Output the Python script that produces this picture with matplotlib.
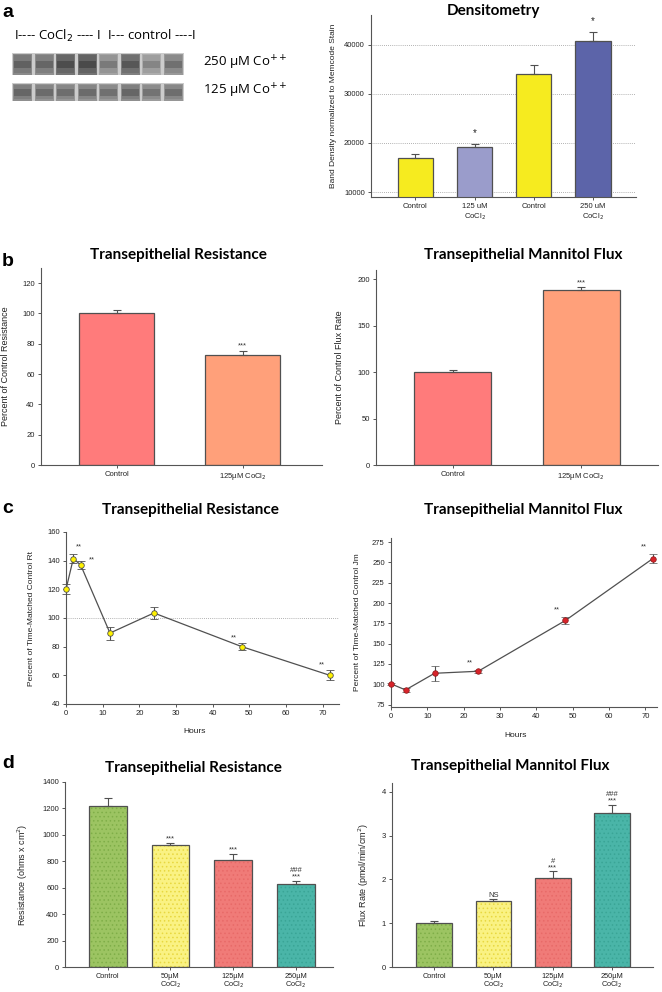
import numpy as np
import matplotlib
matplotlib.use('Agg')
import matplotlib.pyplot as plt
from matplotlib.patches import Rectangle

plt.rcParams['font.family'] = ['Liberation Sans', 'DejaVu Sans']
plt.rcParams['font.size'] = 6
plt.rcParams['hatch.linewidth'] = 0.6

# --- data ---
# a: densitometry
dens_labels = ['Control', '125 uM\nCoCl$_2$', 'Control', '250 uM\nCoCl$_2$']
dens_values = [17000, 19200, 34100, 40800]
dens_err = [800, 500, 1800, 1700]
dens_colors = ['#F6EB1F', '#9A9CCB', '#F6EB1F', '#5C64A9']
dens_stars = ['', '*', '', '*']

# a: blot lane darkness (0 = white, 1 = black)
blot_250 = [0.56, 0.54, 0.64, 0.65, 0.46, 0.60, 0.42, 0.50]
blot_125 = [0.54, 0.52, 0.51, 0.52, 0.50, 0.54, 0.49, 0.51]

# b: percent of control
b_labels = ['Control', '125µM CoCl$_2$']
b_res = [100, 72.5]
b_res_err = [2.5, 2.5]
b_flux = [100, 189]
b_flux_err = [2, 3]
b_colors = ['#FF7B7B', '#FFA07A']

# c: time course
c_res_hours = [0, 2, 4, 12, 24, 48, 72]
c_res = [120, 141.5, 137, 89.5, 103.5, 80, 60]
c_res_err = [3.5, 3, 2.5, 4.5, 4.5, 2.5, 3.5]
c_res_stars = ['', '**', '**', '', '', '**', '**']
c_flux_hours = [0, 4, 12, 24, 48, 72]
c_flux = [100.5, 93, 113.5, 116, 178.5, 254.5]
c_flux_err = [1, 2.5, 9.5, 2, 4, 5.5]
c_flux_stars = ['', '', '', '**', '**', '**']

# d: absolute values
d_labels = ['Control', '50µM\nCoCl$_2$', '125µM\nCoCl$_2$', '250µM\nCoCl$_2$']
d_res = [1222, 920, 810, 628]
d_res_err = [60, 15, 45, 22]
d_res_marks = ['', '***', '***', '###\n***']
d_flux = [1.01, 1.50, 2.04, 3.51]
d_flux_err = [0.04, 0.05, 0.14, 0.19]
d_flux_marks = ['', 'NS', '#\n***', '###\n***']
d_colors = ['#9CC462', '#FAF283', '#F07B78', '#4AB5A8']
d_dots = ['#7FAE48', '#E8D840', '#E86A68', '#3AA596']

W, H = 662, 992
fig = plt.figure(figsize=(W / 100, H / 100), dpi=100)
AX = '#555555'
TITLE_FONT = dict(family=['Lato', 'DejaVu Sans'], fontweight='bold', fontsize=11)


def box(x0, y0, x1, y1):
    return fig.add_axes([x0 / W, 1 - y1 / H, (x1 - x0) / W, (y1 - y0) / H])


def ftext(x, y, s, **kw):
    fig.text(x / W, 1 - y / H, s, **kw)


def style(ax):
    for s in ['top', 'right']:
        ax.spines[s].set_visible(False)
    for s in ['left', 'bottom']:
        ax.spines[s].set_color(AX)
        ax.spines[s].set_linewidth(0.8)
    ax.tick_params(colors=AX, labelcolor='#222222', length=2.5, width=0.7,
                   labelsize=5.5, pad=2)


def bars(ax, values, err, colors, width=0.6, dots=None):
    x = np.arange(len(values))
    if dots is not None:
        for xi, v, c, dc in zip(x, values, colors, dots):
            ax.bar(xi, v, width, color=c, edgecolor=dc, hatch='....', linewidth=0, zorder=2)
        ax.bar(x, values, width, color='none', edgecolor='#505050', linewidth=0.9, zorder=3)
    else:
        ax.bar(x, values, width, color=colors, edgecolor='#505050', linewidth=0.9, zorder=2)
    ax.errorbar(x, values, yerr=[np.zeros(len(err)), err], fmt='none',
                ecolor='#505050', elinewidth=0.8, capsize=3, capthick=0.8, zorder=4)
    return x


# ---------------- panel a ----------------
ftext(2, 17, 'a', fontsize=14, fontweight='bold')
ax_blot = box(0, 40, 200, 110)
ax_blot.set_xlim(0, 200)
ax_blot.set_ylim(110, 40)
ax_blot.axis('off')
for shades, y0, y1 in [(blot_250, 53, 75), (blot_125, 83, 101)]:
    ax_blot.add_patch(Rectangle((12, y0), 172, y1 - y0, color='0.8', lw=0))
    for i, d in enumerate(shades):
        x0 = 13 + i * 21.5
        g = 1 - d
        ax_blot.add_patch(Rectangle((x0, y0 + 0.5), 19, y1 - y0 - 1, color=str(min(g + 0.1, 1)), lw=0))
        ax_blot.add_patch(Rectangle((x0 + 1, y0 + 2), 17, y1 - y0 - 4, color=str(g + 0.04), lw=0))
        yc = (y0 + y1) / 2
        ax_blot.add_patch(Rectangle((x0 + 1, yc - 3.5), 17, 7, color=str(max(g - 0.06, 0)), lw=0))

ftext(14, 40, 'I---- CoCl$_2$ ---- I  I--- control ----I',
      family=['Open Sans', 'DejaVu Sans'], fontsize=9.5, va='baseline')
ftext(203, 67, '250 µM Co$^{++}$', family=['Open Sans', 'DejaVu Sans'], fontsize=9.5, va='baseline')
ftext(203, 95, '125 µM Co$^{++}$', family=['Open Sans', 'DejaVu Sans'], fontsize=9.5, va='baseline')

ax = box(371, 15, 636, 197)
style(ax)
x = bars(ax, dens_values, dens_err, dens_colors)
ax.set_ylim(9000, 46000)
ax.set_xlim(-0.75, 3.73)
ax.set_yticks([10000, 20000, 30000, 40000])
for v in [10000, 20000, 30000, 40000]:
    ax.axhline(v, color='#999999', lw=0.6, ls=(0, (1, 1.5)), zorder=1)
ax.set_xticks(x)
ax.set_xticklabels(dens_labels, fontsize=5.5)
for xi, v, e, s in zip(x, dens_values, dens_err, dens_stars):
    if s:
        ax.text(xi, v + e + 2200, s, ha='center', va='center', fontsize=7, color='#222222')
ax.set_ylabel('Band Density normalized to Memcode Stain', fontsize=6, color='#222222')
ax.yaxis.set_label_coords(-0.13, 0.5)
ftext(493, 11, 'Densitometry', ha='center', va='center', **TITLE_FONT)

# ---------------- panel b ----------------
ftext(2, 266, 'b', fontsize=14, fontweight='bold')

ax = box(41, 268, 322, 465)
style(ax)
x = bars(ax, b_res, b_res_err, b_colors)
ax.set_ylim(0, 130)
ax.set_xlim(-0.6, 1.63)
ax.set_yticks(range(0, 121, 20))
ax.set_xticks(x)
ax.set_xticklabels(b_labels, fontsize=5.5)
ax.text(1, b_res[1] + b_res_err[1] + 2.5, '***', ha='center', fontsize=5.5, color='#333333')
ax.set_ylabel('Percent of Control Resistance', fontsize=6.5, color='#222222')
ax.yaxis.set_label_coords(-0.11, 0.5)
ftext(178, 255, 'Transepithelial Resistance', ha='center', va='center', **TITLE_FONT)

ax = box(376, 270, 658, 465)
style(ax)
x = bars(ax, b_flux, b_flux_err, b_colors)
ax.set_ylim(0, 210)
ax.set_xlim(-0.6, 1.6)
ax.set_yticks(range(0, 201, 50))
ax.set_xticks(x)
ax.set_xticklabels(b_labels, fontsize=5.5)
ax.text(1, b_flux[1] + b_flux_err[1] + 2.5, '***', ha='center', fontsize=5.5, color='#333333')
ax.set_ylabel('Percent of Control Flux Rate', fontsize=6.5, color='#222222')
ax.yaxis.set_label_coords(-0.113, 0.5)
ftext(523, 255, 'Transepithelial Mannitol Flux', ha='center', va='center', **TITLE_FONT)

# ---------------- panel c ----------------
ftext(2, 513, 'c', fontsize=14, fontweight='bold')

ax = box(66, 532, 339, 704)
style(ax)
ax.axhline(100, color='#999999', lw=0.6, ls=(0, (1, 1.5)), zorder=1)
ax.errorbar(c_res_hours, c_res, yerr=c_res_err, color='#505050', lw=0.9,
            marker='o', ms=4, mfc='#FFF200', mec='#505050', mew=0.6,
            ecolor='#505050', elinewidth=0.8, capsize=3, capthick=0.8, zorder=3,
            clip_on=False)
ax.set_xlim(0, 74.5)
ax.set_ylim(40, 160)
ax.set_xticks(range(0, 71, 10))
ax.set_yticks(range(40, 161, 20))
offsets = {1: (4, 4), 2: (8, 0), 5: (-6, 3), 6: (-6, 3)}
for i, s in enumerate(c_res_stars):
    if s:
        dx, dy = offsets[i]
        ax.annotate(s, (c_res_hours[i], c_res[i] + c_res_err[i]), xytext=(dx, dy),
                    textcoords='offset points', ha='center', fontsize=5.5, color='#333333')
ax.set_ylabel('Percent of Time-Matched Control Rt', fontsize=6, color='#222222')
ax.yaxis.set_label_coords(-0.114, 0.5)
ax.set_xlabel('Hours', fontsize=6, color='#222222')
ax.xaxis.set_label_coords(0.47, -0.14)
ftext(190, 510, 'Transepithelial Resistance', ha='center', va='center', **TITLE_FONT)

ax = box(391, 538, 657, 707)
style(ax)
ax.errorbar(c_flux_hours, c_flux, yerr=c_flux_err, color='#505050', lw=0.9,
            marker='o', ms=4, mfc='#D8232A', mec='#8A1A1A', mew=0.5,
            ecolor='#505050', elinewidth=0.8, capsize=3, capthick=0.8, zorder=3,
            clip_on=False)
ax.set_xlim(0, 73.2)
ax.set_ylim(72, 280)
ax.set_xticks(range(0, 71, 10))
ax.set_yticks(range(75, 276, 25))
for i, s in enumerate(c_flux_stars):
    if s:
        ax.annotate(s, (c_flux_hours[i], c_flux[i] + c_flux_err[i]), xytext=(-6, 4),
                    textcoords='offset points', ha='center', fontsize=5.5, color='#333333')
ax.set_ylabel('Percent of Time-Matched Control Jm', fontsize=6, color='#222222')
ax.yaxis.set_label_coords(-0.113, 0.5)
ax.set_xlabel('Hours', fontsize=6, color='#222222')
ax.xaxis.set_label_coords(0.47, -0.15)
ftext(523, 510, 'Transepithelial Mannitol Flux', ha='center', va='center', **TITLE_FONT)

# ---------------- panel d ----------------
ftext(2, 768, 'd', fontsize=14, fontweight='bold')

ax = box(65, 782, 333, 967)
style(ax)
x = bars(ax, d_res, d_res_err, d_colors, dots=d_dots)
ax.set_ylim(0, 1400)
ax.set_xlim(-0.68, 3.59)
ax.set_yticks(range(0, 1401, 200))
ax.set_xticks(x)
ax.set_xticklabels(d_labels, fontsize=5.3, va='top', linespacing=1.0)
for xi, v, e, s in zip(x, d_res, d_res_err, d_res_marks):
    if s:
        ax.text(xi, v + e + 8, s, ha='center', va='bottom', fontsize=5.5,
                color='#333333', linespacing=0.8)
ax.set_ylabel('Resistance (ohms x cm$^2$)', fontsize=6.5, color='#222222')
ax.yaxis.set_label_coords(-0.13, 0.5)
ftext(193, 768, 'Transepithelial Resistance', ha='center', va='center', **TITLE_FONT)

ax = box(392, 783, 653, 967)
style(ax)
x = bars(ax, d_flux, d_flux_err, d_colors, dots=d_dots)
ax.set_ylim(0, 4.2)
ax.set_xlim(-0.71, 3.69)
ax.set_yticks(range(0, 5))
ax.set_xticks(x)
ax.set_xticklabels(d_labels, fontsize=5.3, va='top', linespacing=1.0)
for xi, v, e, s in zip(x, d_flux, d_flux_err, d_flux_marks):
    if s:
        ax.text(xi, v + e + 0.01, s, ha='center', va='bottom', fontsize=5.5,
                color='#333333', linespacing=0.8)
ax.set_ylabel('Flux Rate (pmol/min/cm$^2$)', fontsize=6.5, color='#222222')
ax.yaxis.set_label_coords(-0.08, 0.5)
ftext(510, 766, 'Transepithelial Mannitol Flux', ha='center', va='center', **TITLE_FONT)

fig.savefig('out.png', dpi=100, facecolor='white')
